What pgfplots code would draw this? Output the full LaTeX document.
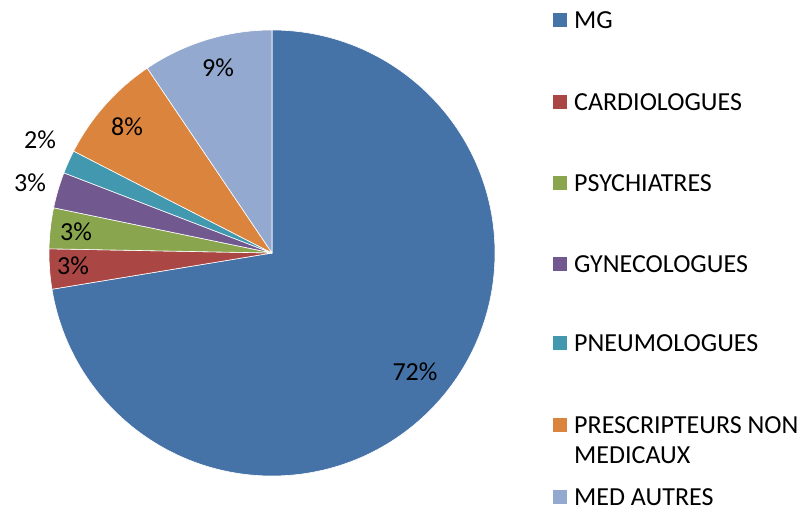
\documentclass[border=0pt]{standalone}
\usepackage{pgfplots}
\usepackage{pgfplotstable}
\pgfplotsset{compat=1.18}
\usepackage{fontspec}
\setmainfont{Carlito}
\definecolor{cMG}{HTML}{4572A7}
\definecolor{cCA}{HTML}{AA4643}
\definecolor{cPS}{HTML}{89A54E}
\definecolor{cGY}{HTML}{71588F}
\definecolor{cPN}{HTML}{4198AF}
\definecolor{cPR}{HTML}{DB843D}
\definecolor{cMA}{HTML}{93A9CF}
\newcommand\bigf{\fontsize{26}{30}\selectfont}
\tikzset{pl/.style={font=\bigf, text=black, inner sep=0pt},
         lg/.style={font=\bigf, text=black, anchor=west, inner sep=0pt}}
\pgfplotstableread{
name value col
MG 72.4 cMG
CARDIOLOGUES 2.9 cCA
PSYCHIATRES 2.95 cPS
GYNECOLOGUES 2.6 cGY
PNEUMOLOGUES 1.7 cPN
PRESCRIPTEURS 8.0 cPR
MEDAUTRES 9.45 cMA
}\piedata
\begin{document}
\begin{tikzpicture}
\begin{axis}[hide axis, scale only axis, width=807pt, height=512pt,
  xmin=0, xmax=807, ymin=0, ymax=512, clip=false]
\def\cum{0}
\pgfplotsforeachungrouped \i in {0,...,6}{%
  \pgfplotstablegetelem{\i}{value}\of\piedata \let\v\pgfplotsretval
  \pgfplotstablegetelem{\i}{col}\of\piedata \let\c\pgfplotsretval
  \pgfmathsetmacro\a{90-3.6*\cum}%
  \pgfmathsetmacro\b{90-3.6*(\cum+\v)}%
  \pgfmathsetmacro\cum{\cum+\v}%
  \edef\cmd{\noexpand\fill[fill=\c, draw=white, line width=0.6pt, line join=round] (axis cs:272,259) -- ++(\a:223pt) arc[start angle=\a, end angle=\b, radius=223pt] -- cycle;}%
  \cmd
}
\node[pl] at (axis cs:415,140) {72\%};
\node[pl] at (axis cs:73,246) {3\%};
\node[pl] at (axis cs:76,280) {3\%};
\node[pl] at (axis cs:30,329) {3\%};
\node[pl] at (axis cs:40,372) {2\%};
\node[pl] at (axis cs:127,385) {8\%};
\node[pl] at (axis cs:218,444) {9\%};
\fill[cMG] (axis cs:553,485) rectangle (axis cs:567,499);
\node[lg] at (axis cs:574,492) {MG};
\fill[cCA] (axis cs:553,403) rectangle (axis cs:567,417);
\node[lg] at (axis cs:574,410) {CARDIOLOGUES};
\fill[cPS] (axis cs:553,322) rectangle (axis cs:567,336);
\node[lg] at (axis cs:574,329) {PSYCHIATRES};
\fill[cGY] (axis cs:553,241) rectangle (axis cs:567,255);
\node[lg] at (axis cs:574,248) {GYNECOLOGUES};
\fill[cPN] (axis cs:553,162) rectangle (axis cs:567,176);
\node[lg] at (axis cs:574,169) {PNEUMOLOGUES};
\fill[cPR] (axis cs:553,80) rectangle (axis cs:567,94);
\node[lg] at (axis cs:574,87) {PRESCRIPTEURS NON};
\node[lg] at (axis cs:574,57) {MEDICAUX};
\fill[cMA] (axis cs:553,8) rectangle (axis cs:567,22);
\node[lg] at (axis cs:574,15) {MED AUTRES};
\end{axis}
\pgfresetboundingbox
\path (0,0) rectangle (807pt,512pt);
\end{tikzpicture}
\end{document}
